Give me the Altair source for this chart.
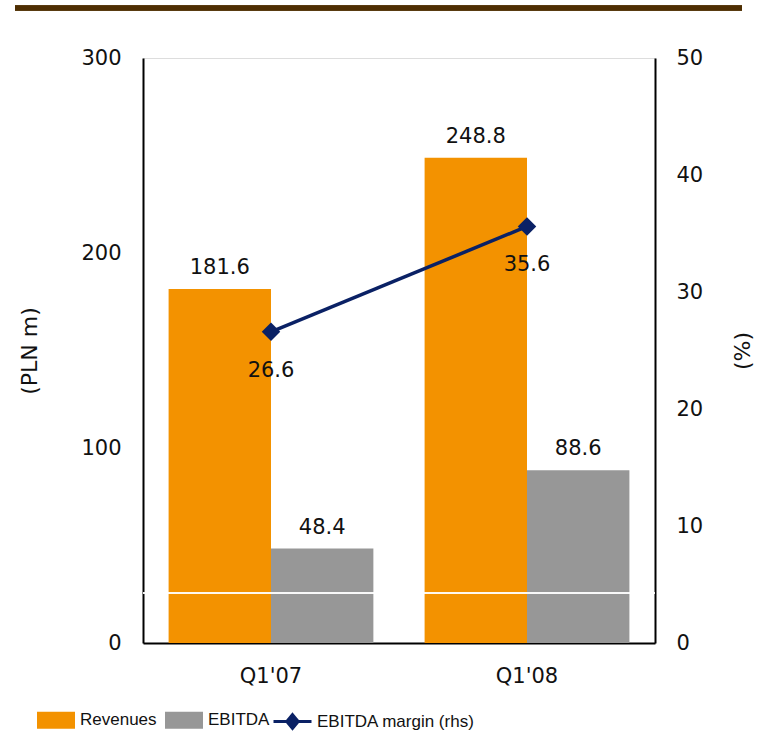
import altair as alt
import pandas as pd

quarters = ["Q1'07", "Q1'08"]
revenues = [181.6, 248.8]
ebitda = [48.4, 88.6]
margin = [26.6, 35.6]
series_names = ["Revenues", "EBITDA"]
margin_name = "EBITDA margin (rhs)"
left_ticks = [0, 100, 200, 300]
right_ticks = [0, 10, 20, 30, 40, 50]

bars_df = pd.DataFrame({
    "quarter": quarters * 2,
    "series": [series_names[0]] * len(quarters) + [series_names[1]] * len(quarters),
    "value": revenues + ebitda,
})
line_df = pd.DataFrame({"quarter": quarters, "margin": margin, "name": [margin_name] * len(quarters)})

ORANGE = "#F39200"
GRAY = "#979797"
NAVY = "#0A2165"
BROWN = "#4E2E02"
TXT = "#111111"
FONT = "DejaVu Sans"
LFONT = "Liberation Sans"
FS = 21

x_enc = alt.X(
    "quarter:N", sort=quarters,
    scale=alt.Scale(paddingInner=0.2, paddingOuter=0.1),
    axis=alt.Axis(title=None, labelAngle=0, labelFont=FONT, labelFontSize=FS, labelColor=TXT,
                  labelPadding=22, ticks=False, domainColor="black", domainWidth=2, grid=False),
)
xoff_enc = alt.XOffset("series:N", sort=series_names,
                       scale=alt.Scale(domain=series_names, paddingInner=0, paddingOuter=0))
y_left = alt.Y(
    "value:Q", scale=alt.Scale(domain=[0, 300], nice=False),
    axis=alt.Axis(title="(PLN m)", values=left_ticks, grid=False, ticks=False,
                  domainColor="black", domainWidth=2, labelFont=FONT, labelFontSize=FS,
                  labelColor=TXT, labelPadding=22, titleFont=FONT, titleFontSize=22,
                  titleFontWeight="normal", titleColor=TXT, titlePadding=39),
)

bars = alt.Chart(bars_df).mark_bar().encode(
    x=x_enc,
    xOffset=xoff_enc,
    y=y_left,
    color=alt.Color(
        "series:N", sort=series_names,
        scale=alt.Scale(domain=series_names, range=[ORANGE, GRAY]),
        legend=alt.Legend(title=None, orient="none", legendX=-106, legendY=643,
                          direction="horizontal", symbolType="M-1,-0.45H1V0.45H-1Z",
                          symbolSize=1444, symbolStrokeWidth=0, symbolOpacity=1,
                          labelFont=LFONT, labelFontSize=17, labelColor=TXT,
                          labelOffset=5, columnPadding=8, padding=0),
    ),
)

white_rule = alt.Chart(bars_df).mark_rule(color="white", strokeWidth=1).encode(
    x=alt.value(0), x2=alt.value(512), y=alt.value(535)
)

bar_text = alt.Chart(bars_df).mark_text(
    baseline="alphabetic", dy=-15, font=FONT, fontSize=FS, color=TXT
).encode(
    x=x_enc, xOffset=xoff_enc, y=y_left, text=alt.Text("value:Q", format=".1f")
)

top_rule = alt.Chart(bars_df).mark_rule(color=BROWN, strokeWidth=5).encode(
    x=alt.value(-128), x2=alt.value(599), y=alt.value(-50)
)

y_right = alt.Y(
    "margin:Q", scale=alt.Scale(domain=[0, 50], nice=False),
    axis=alt.Axis(orient="right", title="(%)", titleAngle=-90, values=right_ticks, grid=False,
                  ticks=False, domainColor="black", domainWidth=2, labelFont=FONT,
                  labelFontSize=FS, labelColor=TXT, labelPadding=21, titleFont=FONT,
                  titleFontSize=22, titleFontWeight="normal", titleColor=TXT, titlePadding=52),
)

line = alt.Chart(line_df).mark_line(strokeWidth=3.5).encode(
    x=x_enc,
    y=y_right,
    stroke=alt.Stroke(
        "name:N",
        scale=alt.Scale(domain=[margin_name], range=[NAVY]),
        legend=alt.Legend(title=None, orient="none", legendX=129, legendY=643,
                          direction="horizontal",
                          symbolType="M-1,0H1M0,-0.36L0.3,0L0,0.36L-0.3,0Z",
                          symbolSize=1444, symbolStrokeWidth=3, symbolFillColor=NAVY,
                          symbolStrokeColor=NAVY, symbolOpacity=1,
                          labelFont=LFONT, labelFontSize=17, labelColor=TXT,
                          labelOffset=4, labelLimit=400, padding=0),
    ),
)

points = alt.Chart(line_df).mark_point(
    shape="diamond", filled=True, size=340, color=NAVY, opacity=1
).encode(x=x_enc, y=y_right)

margin_text = alt.Chart(line_df).mark_text(
    baseline="alphabetic", dy=45, font=FONT, fontSize=FS, color=TXT
).encode(x=x_enc, y=y_right, text=alt.Text("margin:Q", format=".1f"))

left = alt.layer(bars, white_rule, bar_text, top_rule)
right = alt.layer(line, points, margin_text)

chart = alt.layer(left, right).resolve_scale(y="independent").properties(
    width=512, height=585,
    autosize=alt.AutoSizeParams(type="none"),
    padding={"left": 143, "top": 58, "right": 103, "bottom": 90},
).configure_view(stroke=None).configure(background="white")

chart.save("out.html", embed_options={"renderer": "svg", "actions": False})
